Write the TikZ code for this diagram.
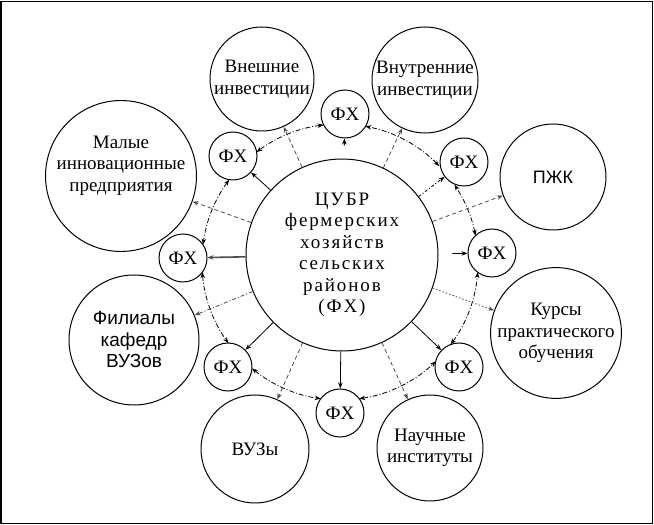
\documentclass[tikz,border=0pt]{standalone}
\usepackage{fontspec}
\setmainfont{Liberation Serif}
\newfontfamily\sansfont{Liberation Sans}
\newfontfamily\spacedfont[LetterSpace=10]{Liberation Serif}
\usetikzlibrary{arrows.meta}

\begin{document}
\begin{tikzpicture}[x=1pt, y=1pt, >={Stealth[length=6pt,width=4.5pt]},
    big/.style={draw, circle, line width=1pt, minimum size=#1, inner sep=0pt, align=center, font=\fontsize{19}{21.5}\selectfont},
    fx/.style={draw, circle, line width=1pt, minimum size=48pt, inner sep=0pt, font=\fontsize{19}{21}\selectfont},
    ring/.style={<->, line width=0.8pt, dash pattern=on 5pt off 2pt on 1pt off 2pt},
    spoke/.style={->, line width=0.8pt},
    link/.style={->, line width=0.8pt, black!70, dash pattern=on 4pt off 3pt}]

    \useasboundingbox (0,0) rectangle (654,525);
    \draw[line width=1.5pt] (1,1.5) rectangle (652.5,523.5);

    % центр
    \node[big=192pt, font=\spacedfont\fontsize{19}{21.5}\selectfont] (cubr) at (342,270)
        {ЦУБР\\фермерских\\хозяйств\\сельских\\районов\\(ФХ)};

    % внешние круги
    \node[big=104pt] (vnesh) at (262,446) {Внешние\\инвестиции};
    \node[big=106pt] (vnutr) at (425,445) {Внутренние\\инвестиции};
    \node[big=128pt] (malye) at (121,349) {Малые\\инновационные\\предприятия\\[3pt]};
    \node[big=106pt, font=\sansfont\fontsize{18}{21}\selectfont] (pzhk) at (553,348) {ПЖК};
    \node[big=130pt, font=\sansfont\fontsize{19}{21.5}\selectfont] (filialy) at (134,185) {Филиалы\\кафедр\\ВУЗов};
    \node[big=124pt] (kursy) at (556,192) {Курсы\\практического\\обучения};
    \node[big=108pt] (vuzy) at (255,76) {ВУЗы};
    \node[big=106pt] (nauch) at (430,77) {Научные\\институты};

    % ФХ
    \node[fx] (fxT) at (345,411) {ФХ};
    \node[fx] (fxTL) at (233,369) {ФХ};
    \node[fx] (fxTR) at (464,363) {ФХ};
    \node[fx] (fxR) at (492,272) {ФХ};
    \node[fx] (fxL) at (183,267) {ФХ};
    \node[fx] (fxBL) at (228,158) {ФХ};
    \node[fx] (fxB) at (340,112) {ФХ};
    \node[fx] (fxBR) at (459,158) {ФХ};

    % кольцо
    \coordinate (ring) at (340,263);
    \foreach \a/\b in {96.8/127.2, 143.4/172.8, 184.2/216, 230.4/262,
                       278/313.9, 323.3/355.8, 11/34, 44/79.4}
        \draw[ring] ([shift={(ring)}] \a:138) arc[start angle=\a, end angle=\b, radius=138];

    % стрелки к ФХ
    \draw[spoke] (cubr) -- (fxTL);
    \draw[spoke, line width=1.6pt, black!70] (cubr) -- (fxL);
    \draw[spoke] (cubr) -- (fxBL);
    \draw[spoke] (cubr) -- (fxB);
    \draw[spoke] (cubr) -- (fxBR);
    \draw[spoke, dash pattern=on 3pt off 2pt on 1pt off 2pt] (cubr) -- (fxTR);
    \draw[spoke, shorten <=13pt] (cubr) -- (fxT);
    \draw[spoke, shorten <=14pt] (cubr) -- (fxR);

    % связи
    \draw[link] (cubr) -- (vnesh);
    \draw[link] (cubr) -- (vnutr);
    \draw[link] (cubr) -- (malye);
    \draw[link] (cubr) -- (pzhk);
    \draw[link, dash pattern=on 1.5pt off 2pt] (cubr) -- (kursy);
    \draw[link] (cubr) -- (nauch);
    \draw[link] (cubr) -- (vuzy);
    \draw[link, dash pattern=on 4pt off 2pt on 1pt off 2pt] (cubr) -- (filialy);
\end{tikzpicture}
\end{document}
